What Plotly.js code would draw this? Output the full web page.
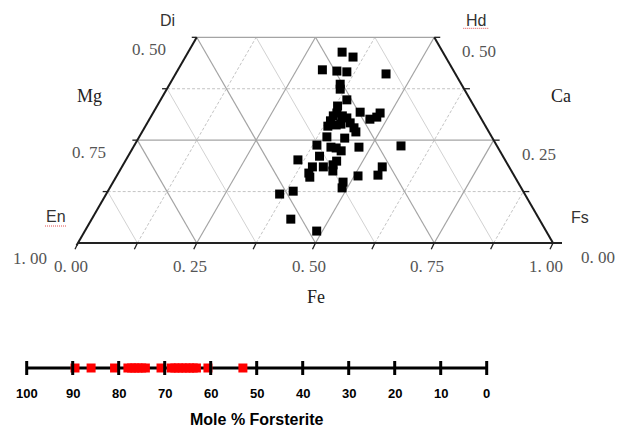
<!DOCTYPE html>
<html><head><meta charset="utf-8">
<script src="https://cdn.plot.ly/plotly-3.0.1.min.js"></script>
<style>html,body{margin:0;padding:0;background:#fff}</style>
</head><body><div id="chart" style="width:619px;height:429px"></div>
<script>
// Pyroxene compositions (molar fractions): Ca (Wo) and Fe (Fs); Mg = 1 - Ca - Fe
const pyxCa = [0.464,0.452,0.421,0.418,0.416,0.411,0.386,0.374,0.348,0.333,0.318,0.316,0.301,0.306,0.309,0.316,0.309,0.304,0.297,0.284,0.287,0.289,0.292,0.280,0.270,0.258,0.255,0.238,0.233,0.231,0.224,0.233,0.236,0.211,0.202,0.199,0.185,0.185,0.190,0.175,0.170,0.160,0.163,0.185,0.165,0.148,0.134,0.119,0.126,0.058,0.029];
const pyxFe = [0.324,0.353,0.304,0.336,0.358,0.443,0.359,0.365,0.392,0.380,0.435,0.478,0.464,0.476,0.383,0.387,0.402,0.414,0.383,0.384,0.400,0.409,0.427,0.441,0.450,0.395,0.434,0.384,0.416,0.428,0.442,0.475,0.562,0.403,0.362,0.445,0.401,0.424,0.442,0.449,0.401,0.408,0.508,0.548,0.549,0.484,0.489,0.365,0.390,0.419,0.488];
// Olivine compositions (mole % forsterite)
const olivineFo = [89.5,86.0,80.9,78.0,77.2,76.5,75.8,75.0,74.2,70.8,68.6,67.8,67.0,66.2,65.4,64.6,63.8,63.1,60.6,53.0];
const foTicks = [100,90,80,70,60,50,40,30,20,10,0];
const foTickLabels = ['100','90','80','70','60','50','40','30','20','10','0'];
// Ternary (quadrilateral) axes
const feTicks = [0,0.25,0.5,0.75,1];
const mgLeftTicks = [0.5,0.75,1.0];   // left axis (Mg) labels at Ca = 0.5,0.25,0
const caRightTicks = [0.5,0.25,0.0];
const gridStep = 0.125;

const S = 475; // px per ternary unit (base length)
const R3 = Math.sqrt(3)/2;
const tx = (ca, fe) => fe + ca/2;
const ty = ca => ca*R3;
const px = p => p/S;

const grid = {major:{x:[],y:[]}, minorSolid:{x:[],y:[]}, minorDash:{x:[],y:[]}};
function seg(g, x0,y0,x1,y1){ g.x.push(x0,x1,null); g.y.push(y0,y1,null); }
for (let k=1;k<=8;k++){
  const v = k*gridStep;
  const isMajor = (k%2===0);
  if (v<=0.5 && k<=4){
    seg(isMajor?grid.major:grid.minorDash, tx(v,0),ty(v), tx(v,1-v),ty(v));
  }
  if (k<8){
    const caTopF = Math.min(0.5, 1-v);
    seg(isMajor?grid.major:grid.minorDash, tx(0,v),0, tx(caTopF,v),ty(caTopF));
    const m = v; const caTopM = Math.min(0.5, 1-m);
    seg(isMajor?grid.major:grid.minorSolid, tx(0,1-m),0, tx(caTopM,1-m-caTopM),ty(caTopM));
  }
}
const traces = [];
traces.push({x:grid.minorSolid.x,y:grid.minorSolid.y,mode:'lines',line:{color:'#d2d2d2',width:1},hoverinfo:'skip'});
traces.push({x:grid.minorDash.x,y:grid.minorDash.y,mode:'lines',line:{color:'#c4c4c4',width:1,dash:'3px,2px'},hoverinfo:'skip'});
traces.push({x:grid.major.x,y:grid.major.y,mode:'lines',line:{color:'#a4a4a4',width:1.2},hoverinfo:'skip'});
// edges
traces.push({x:[tx(0,0)-px(3)*0.5,tx(0.5,0)],y:[-px(3)*R3,ty(0.5)],mode:'lines',line:{color:'#1a1a1a',width:2},hoverinfo:'skip'});
traces.push({x:[tx(0,1),tx(0.5,0.5)],y:[0,ty(0.5)],mode:'lines',line:{color:'#1a1a1a',width:2},hoverinfo:'skip'});
traces.push({x:[tx(0,0),tx(0,1)+px(9)],y:[0,0],mode:'lines',line:{color:'#222',width:1.8},hoverinfo:'skip'});
// edge ticks
const tk = {x:[],y:[]};
for (let k=0;k<=8;k++){ const f=k*gridStep; seg(tk, f,0, f-px(6)*0.5, -px(6)*R3*1.2); }
for (let k=1;k<=4;k++){ const c=k*gridStep;
  seg(tk, tx(c,0),ty(c), tx(c,0)-px(5),ty(c));
  seg(tk, tx(c,1-c),ty(c), tx(c,1-c)+px(6),ty(c)); }
traces.push({x:tk.x,y:tk.y,mode:'lines',line:{color:'#222',width:1.3},hoverinfo:'skip'});
// data points
traces.push({x:pyxCa.map((c,i)=>tx(c,pyxFe[i])),y:pyxCa.map(ty),mode:'markers',
  marker:{symbol:'square',size:9,color:'#000'},hoverinfo:'skip'});
// spell-check squiggles under En and Hd labels
const sq = {x:[],y:[]};
seg(sq, tx(0,0)-px(33), px(17), tx(0,0)-px(12), px(17));
seg(sq, tx(0.5,0.5)+px(29), ty(0.5)+px(9), tx(0.5,0.5)+px(55), ty(0.5)+px(9));
traces.push({x:sq.x,y:sq.y,mode:'lines',line:{color:'#e05050',width:1,dash:'1px,1px'},hoverinfo:'skip'});

// olivine bar (overlay axes x2/y2, y2 units in px)
traces.push({x:[100,0],y:[0,0],xaxis:'x2',yaxis:'y2',mode:'lines',line:{color:'#000',width:3},hoverinfo:'skip'});
traces.push({x:olivineFo,y:olivineFo.map(()=>0),xaxis:'x2',yaxis:'y2',mode:'markers',
  marker:{symbol:'square',size:9,color:'#ff0000'},hoverinfo:'skip'});
const ot = {x:[],y:[]};
foTicks.forEach(v=>seg(ot, v,-7, v,7));
traces.push({x:ot.x,y:ot.y,xaxis:'x2',yaxis:'y2',mode:'lines',line:{color:'#000',width:3},hoverinfo:'skip'});

const fmt = v => v.toFixed(2).replace('.', '. ');
const serifNum = {family:'"Liberation Serif", "DejaVu Serif", serif', size:17, color:'#555'};
const serifLab = {family:'"Liberation Serif", "DejaVu Serif", serif', size:18, color:'#222'};
const sansLab = {family:'"Liberation Sans", Arial, sans-serif', size:16, color:'#333'};
const ann = [];
function A(x,y,text,font,xs,ys,ref){ ann.push({x,y,text,font,xshift:xs,yshift:ys,showarrow:false,
  xref:ref?ref[0]:'x',yref:ref?ref[1]:'y',xanchor:'center',yanchor:'middle'}); }
feTicks.forEach(v=>A(v,0,fmt(v),serifNum,-7,-23));
mgLeftTicks.forEach((v,i)=>{ const c=caRightTicks[i]; A(tx(c,0),ty(c),fmt(v),serifNum,-48, i===2?-15:-12); });
caRightTicks.forEach(c=>A(tx(c,1-c),ty(c),fmt(c),serifNum,45,-14));
A(tx(0.5,0),ty(0.5),'Di',sansLab,-29,17);
A(tx(0.5,0.5),ty(0.5),'Hd',sansLab,42,17);
A(tx(0,0),0,'En',sansLab,-22,27);
A(tx(0,1),0,'Fs',sansLab,27,26);
A(tx(0.375,0),ty(0.375),'Mg',serifLab,-78,-7);
A(tx(0.375,0.625),ty(0.375),'Ca',serifLab,97,-7);
A(0.5,0,'Fe',serifLab,0,-54);
const boldLab = {family:'"Liberation Sans", Arial, sans-serif', size:13, color:'#000'};
foTicks.forEach((v,i)=>A(v,0,'<b>'+foTickLabels[i]+'</b>',boldLab,0,-25,['x2','y2']));
A(50,0,'<b>Mole % Forsterite</b>',{family:'"Liberation Sans", Arial, sans-serif',size:16,color:'#000'},0,-51,['x2','y2']);

const layout = {width:619,height:429,margin:{l:0,r:0,t:0,b:0},paper_bgcolor:'#fff',plot_bgcolor:'#fff',showlegend:false,
  xaxis:{visible:false,range:[px(-78),px(619-78)],domain:[0,1],fixedrange:true},
  yaxis:{visible:false,range:[px(-(429-243)),px(243)],domain:[0,1],fixedrange:true},
  xaxis2:{visible:false,overlaying:'x',anchor:'y2',range:[100+26.7/4.6,100-(619-26.7)/4.6]},
  yaxis2:{visible:false,overlaying:'y',anchor:'x2',range:[-(429-368),368]},
  annotations:ann};
Plotly.newPlot('chart',traces,layout,{staticPlot:true,displayModeBar:false});
</script></body></html>
